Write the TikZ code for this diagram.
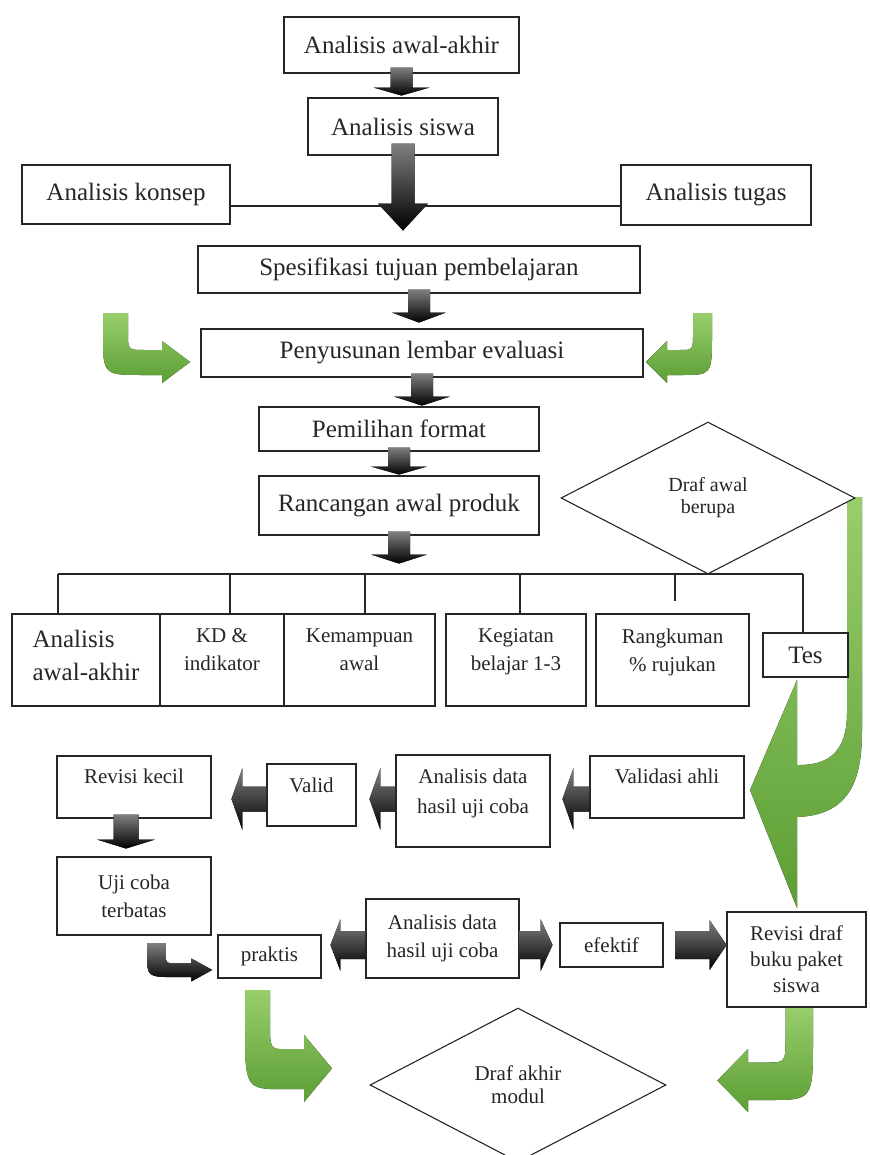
\documentclass[tikz,border=0pt]{standalone}
\usepackage{fontspec}
\setmainfont{Liberation Serif}
\usetikzlibrary{shapes.geometric,calc}

\definecolor{leafgreen}{RGB}{92,158,52}
\definecolor{leaflight}{RGB}{152,206,108}

\tikzset{
  box/.style={draw=black!85, line width=1.1pt, fill=white, text=black!85, align=center, inner sep=1pt},
  decision/.style={diamond, draw=black!85, line width=1.1pt, fill=white, text=black!85, align=center, inner sep=0pt, aspect=1.93},
  bigtext/.style={font=\fontsize{25}{30}\selectfont},
  smalltext/.style={font=\fontsize{21}{28}\selectfont},
  bar/.style={draw=black!85, line width=1.1pt},
  darkarrow/.style={top color=black!50, bottom color=black},
  greenarrow/.style={top color=leaflight, bottom color=leafgreen},
}

% block arrow: start, angle, length, half shaft, half head, head length
\newcommand\blockarrow[6]{%
  \fill[darkarrow, shift={(#1)}, rotate=#2]
    (0,-#4) -- (#3-#6,-#4) -- (#3-#6,-#5) -- (#3,0) -- (#3-#6,#5) -- (#3-#6,#4) -- (0,#4) -- cycle;}

% curved arrow: origin, xscale, yscale, style
\newcommand\hookarrow[4]{%
  \fill[#4, shift={(#1)}, xscale=#2, yscale=#3]
    (0,0) -- (0,20) .. controls (0,62) .. (40,62) -- (59,62) -- (59,70) -- (87,49)
    -- (59,28) -- (59,37) -- (42,37) .. controls (25,37) .. (25,20) -- (25,0) -- cycle;}

\begin{document}
\begin{tikzpicture}[x=1pt, y=-1pt]
\clip (0,0) rectangle (869,1155);

% Draw the green arrows
\hookarrow{103,313}{1}{1}{greenarrow}
\hookarrow{712,313}{-0.76}{1}{greenarrow}
\hookarrow{245,990}{1}{1.6}{greenarrow}
\hookarrow{813,1007}{-1.1}{1.5}{greenarrow}
\fill[greenarrow] (797,680) -- (750,790) -- (797,908) -- (797,817)
  .. controls (850,815) and (862,780) .. (862,730) -- (862,497) -- (847,497) -- (847,713)
  .. controls (847,750) and (830,765) .. (800,765) -- (797,765) -- cycle;

% Draw the analysis chain
\node[box, bigtext, minimum width=235, minimum height=56] (awal) at (401.5,45) {Analisis awal-akhir};
\node[box, bigtext, minimum width=190, minimum height=57] (siswa) at (403,126.5) {Analisis siswa};
\node[box, bigtext, minimum width=208, minimum height=59] (konsep) at (126,194.5) {Analisis konsep};
\node[box, bigtext, minimum width=190, minimum height=60] (tugas) at (716,195) {Analisis tugas};
\draw[bar] ($(konsep.east)+(0,11.5)$) -- ($(tugas.west)+(0,11)$);
\node[box, bigtext, minimum width=442, minimum height=47] (tujuan) at (419,269.5) {Spesifikasi tujuan pembelajaran};
\node[box, bigtext, minimum width=442, minimum height=48] (evaluasi) at (422,353) {Penyusunan lembar evaluasi};
\node[box, bigtext, minimum width=280, minimum height=44] (format) at (399,429) {Pemilihan format};
\node[box, bigtext, minimum width=280, minimum height=59] (rancangan) at (399,505.5) {Rancangan awal produk};
\node[decision, font=\fontsize{20}{22}\selectfont, minimum width=294, minimum height=152] (drafawal) at (708,498) {Draf awal\\berupa};

% Draw the product parts
\node[box, font=\fontsize{25}{33}\selectfont, align=left, text depth=10pt, minimum width=148, minimum height=92] (awal2) at (86,660) {Analisis\\awal-akhir};
\node[box, smalltext, text depth=20pt, minimum width=124, minimum height=92] (kd) at (222,660) {KD \&\\indikator};
\node[box, smalltext, text depth=20pt, minimum width=151, minimum height=92] (kemampuan) at (359.5,660) {Kemampuan\\awal};
\node[box, smalltext, text depth=20pt, minimum width=140, minimum height=92] (kegiatan) at (516,660) {Kegiatan\\belajar 1-3};
\node[box, smalltext, text depth=20pt, minimum width=153, minimum height=92] (rangkuman) at (672.5,660) {Rangkuman\\\% rujukan};
\node[box, bigtext, minimum width=85, minimum height=44] (tes) at (805.5,655) {Tes};

\coordinate (bl) at (58,574);
\coordinate (br) at (803,574);
\draw[bar] (bl) -- (br);
\foreach \x/\n in {58/awal2,230/kd,365/kemampuan,520/kegiatan,803/tes}
  \draw[bar] (\x,574) -- (\x,574 |- \n.north);
\draw[bar] (675,574) -- ($(rangkuman.north)+(2.5,-12)$);

% Draw the validation row
\node[box, smalltext, text depth=22pt, minimum width=154, minimum height=62] (revkecil) at (134,787) {Revisi kecil};
\node[box, smalltext, text depth=20pt, minimum width=89, minimum height=62] (valid) at (311.5,795) {Valid};
\node[box, font=\fontsize{21}{30}\selectfont, text depth=20pt, minimum width=154, minimum height=92] (analisis1) at (473,801) {Analisis data\\hasil uji coba};
\node[box, smalltext, text depth=22pt, minimum width=154, minimum height=62] (validasi) at (667,787) {Validasi ahli};

% Draw the trial row
\node[box, smalltext, minimum width=154, minimum height=78] (uji) at (134,896) {Uji coba\\terbatas};
\node[box, smalltext, minimum width=103, minimum height=43] (praktis) at (269.5,956.5) {praktis};
\node[box, smalltext, minimum width=153, minimum height=79] (analisis2) at (442.5,938.5) {Analisis data\\hasil uji coba};
\node[box, smalltext, minimum width=103, minimum height=44] (efektif) at (611.5,945) {efektif};
\node[box, font=\fontsize{21}{26}\selectfont, minimum width=139, minimum height=95] (revdraf) at (796.5,959.5) {Revisi draf\\buku paket\\siswa};
\node[decision, font=\fontsize{21}{23}\selectfont, minimum width=296, minimum height=154] (drafakhir) at (518,1085) {Draf akhir\\modul};

% Draw the dark arrows
\blockarrow{$(awal.south)+(0,-6)$}{-90}{28}{11}{28}{8}
\blockarrow{$(siswa.south)+(0,-12)$}{-90}{87}{11.5}{25}{27}
\blockarrow{$(tujuan.south)+(0,-4)$}{-90}{33}{11}{27}{10}
\blockarrow{$(evaluasi.south)+(0,-4)$}{-90}{32}{11}{28}{9}
\blockarrow{$(format.south)+(0,-4)$}{-90}{27}{11}{28}{8}
\blockarrow{$(rancangan.south)+(0,-4)$}{-90}{32}{11}{28}{9}
\blockarrow{$(revkecil.south)+(-8,-4)$}{-90}{34}{12.5}{29}{9}
\blockarrow{$(validasi.west)+(0,12)$}{180}{27}{12.5}{31}{11}
\blockarrow{$(analisis1.west)+(0,-2)$}{180}{26}{12.5}{31}{11}
\blockarrow{$(valid.west)+(0,4)$}{180}{35}{12.5}{31}{11}
\blockarrow{analisis2.west |- efektif.center}{180}{35}{14}{26}{10}
\blockarrow{analisis2.east |- efektif.center}{0}{33}{14}{26}{12}
\blockarrow{$(efektif.east)+(12,0)$}{0}{51}{14}{25}{17}
\hookarrow{147,943}{0.75}{0.55}{darkarrow}

\end{tikzpicture}
\end{document}
